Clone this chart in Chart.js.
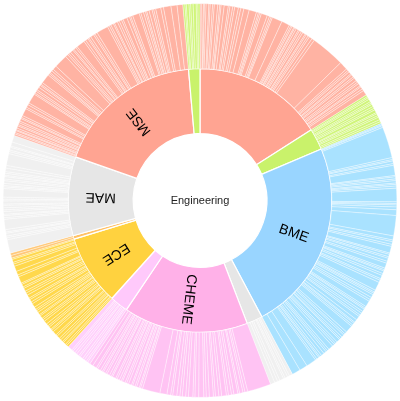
<!DOCTYPE html>
<html>
<head>
<meta charset="utf-8">
<script src="https://cdn.jsdelivr.net/npm/chart.js@4"></script>
<style>
    html, body { margin: 0; padding: 0; background: #fff; }
    #chartarea { width: 400px; height: 401px; }
</style>
</head>
<body>
<div id="chartarea"><canvas id="myChart" width="400" height="401"></canvas></div>
<script>
let chart;

// centre label and inner ring names (clockwise from 12 o'clock, blank = no label drawn)
const rootLabel = 'Engineering';
const departments = ['', '', 'BME', '', 'CHEME', '', 'ECE', '', 'MAE', 'MSE', ''];

// outer ring: sub groups of each department, same order as departments
const salmonOther = [4,6,3,5,8,4,7,5,10,6,4,9,12,5,8,6,11,7,9,16, 22,6,4,5,18,7,5,4,30,24, 5,4,6,3,5,7,4,6,5,8,4,6,5,9,8, 101, 25,6,5,8,4,7,5,9,6,5,8,4,7,6,15];
const greenOtherA = [6,4,5,8,5,4,7,6,5,9,4,6,5,8,6,6];
const bme = [4,3,5,92, 6,4,8,5,30,4,6,5,7,4,5,6,40,5,4,6,8,17, 60,
    12,5,8,6,20,4,7,5,9,6,15,5,4,8,6,10,5,7,25,6,4,5,9,7,6,18,5,4,8,6,7,5,12,9,4,6,5,22,7,5,8,6,4,10,6,5,7,14,6,5,8,9,6,4,7,5,30,24,25];
const grayOther = [10,6,8,5,12,7,9,13];
const cheme = [70, 8,6,10,5,12,7,9,6,14,8,10,6,12,9,7,15,11,6,13,8,10,7,9,12,6,11,21, 52,
    6,4,8,5,7,4,9,6,5,8,4,6,7,5,10,4,6,8,5,7,4,6,9,5,12,10];
const pinkOther = [8,5,7,6,9,5,8,6,7,5,14];
const ece = [6,5,8,4,7,6,9,5,12,6,4,8,5,7,10,6,5,9,4,8,6,5,7,12,6,8,5,10,7,6,9,5,8,4,20,6,11,16,7,5,9,4];
const orangeOther = [8,7];
const mae = [40,6,5,8,4,7,30,5,6,4,8,5,6,7,4,9,5,6,25,5,4,6,8,5,7,4,6,5,10,8,35,6,5,8,4,12,20];
const mse = [5,4,6,3,5,7,4,6,5,8,4,6,22,5,8,6,30,4,6,5,9,7,4,6,28,5,4,7,6,12,40,8,5,6,9,4,7,5,25,6,8,4,6,10,5,7,35,
    6,5,8,4,9,6,7,5,12,8,4,6,20,5,8,6,4,7,9,5,6,15,8,22,18,17];
const greenOtherB = [6,4,8,5,7,9,5,6];

const innerColors = ['#ffa492', '#c9f26b', '#99d5ff', '#e6e6e6', '#ffb1e8', '#ffc9fb', '#ffd23f', '#ffc267', '#e6e6e6', '#ffa492', '#c9f26b'];
const outerColors = ['#ffb3a3', '#d0f57a', '#a9e2ff', '#f0f0f0', '#ffc3f3', '#ffd0fb', '#ffd84c', '#ffc878', '#f0f0f0', '#ffb3a3', '#d0f57a'];

const groups = [salmonOther, greenOtherA, bme, grayOther, cheme, pinkOther, ece, orangeOther, mae, mse, greenOtherB];

// build the two rings
let outerData = [];
let outerBg = [];
let innerData = [];
groups.forEach((g, i) => {
    g.forEach(v => {
        outerData.push(v);
        outerBg.push(outerColors[i]);
    });
    innerData.push(g.reduce((a, b) => a + b, 0));
});

// draws the rotated department names and the centre text
const sunLabels = {
    id: 'sunLabels',
    afterDatasetsDraw(c) {
        const ctx = c.ctx;
        const meta = c.getDatasetMeta(1);
        ctx.save();
        ctx.fillStyle = '#000';
        ctx.textAlign = 'center';
        ctx.textBaseline = 'middle';
        ctx.font = '14px "Liberation Sans", Arial, sans-serif';
        meta.data.forEach((arc, i) => {
            const name = departments[i];
            if (!name) return;
            const p = arc.getProps(['x', 'y', 'startAngle', 'endAngle', 'innerRadius', 'outerRadius'], true);
            const mid = (p.startAngle + p.endAngle) / 2;
            const r = (p.innerRadius + p.outerRadius) / 2;
            ctx.save();
            ctx.translate(p.x + r * Math.cos(mid), p.y + r * Math.sin(mid));
            ctx.rotate(mid);
            ctx.fillText(name, 0, 0);
            ctx.restore();
        });
        const first = meta.data[0];
        ctx.font = '11px "Liberation Sans", Arial, sans-serif';
        ctx.fillStyle = '#222';
        ctx.fillText(rootLabel, first.x, first.y);
        ctx.restore();
    }
};

function createChart() {
    const ctx = document.getElementById("myChart");

    chart = new Chart(ctx, {
        type: 'doughnut',
        data: {
            labels: outerData.map(() => ''),
            datasets: [{
                data: outerData,
                backgroundColor: outerBg,
                borderColor: '#ffffff',
                borderWidth: 0.35
            }, {
                data: innerData,
                backgroundColor: innerColors,
                borderColor: '#ffffff',
                borderWidth: 1.2
            }]
        },
        options: {
            responsive: false,
            animation: false,
            cutout: '34%',
            layout: { padding: 3 },
            events: [],
            plugins: {
                legend: { display: false },
                tooltip: { enabled: false }
            }
        },
        plugins: [sunLabels]
    });
}

createChart();
</script>
</body>
</html>
